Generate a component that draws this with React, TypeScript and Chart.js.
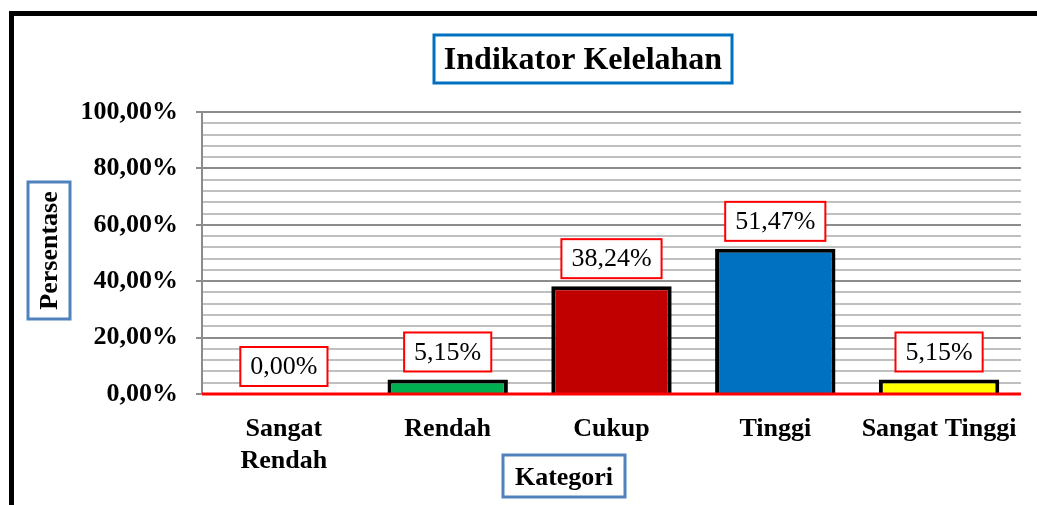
import React, { useEffect, useRef } from "react";
import { Chart, registerables } from "chart.js";

Chart.register(...registerables);

const categories: (string | string[])[] = [["Sangat", "Rendah"], "Rendah", "Cukup", "Tinggi", "Sangat Tinggi"];
const values: number[] = [0, 5.15, 38.24, 51.47, 5.15];
const barColors: string[] = ["#7f7f7f", "#00B050", "#C00000", "#0070C0", "#FFFF00"];
const yMin = 0;
const yMax = 100;
const yStep = 4;
const yMajorStep = 20;
const chartTitle = "Indikator Kelelahan";
const yTitle = "Persentase";
const xTitle = "Kategori";

const SERIF = "'Liberation Serif', 'Times New Roman', serif";
const fmt = (v: number) => v.toFixed(2).replace(".", ",") + "%";

const decorPlugin = {
  id: "decor",
  beforeDraw(chart: any) {
    const ctx = chart.ctx;
    ctx.save();
    ctx.fillStyle = "#ffffff";
    ctx.fillRect(0, 0, chart.width, chart.height);
    // frame
    ctx.fillStyle = "#000000";
    ctx.fillRect(9, 11, chart.width - 9, 5);
    ctx.fillRect(9, 11, 5, chart.height - 11);
    ctx.restore();
  },
  afterDatasetsDraw(chart: any) {
    const ctx = chart.ctx;
    const area = chart.chartArea;
    ctx.save();
    // red baseline
    const y0 = chart.scales.y.getPixelForValue(0);
    ctx.strokeStyle = "#FF0000";
    ctx.lineWidth = 3;
    ctx.beginPath();
    ctx.moveTo(area.left, y0);
    ctx.lineTo(area.right, y0);
    ctx.stroke();

    // data labels
    const meta = chart.getDatasetMeta(0);
    ctx.font = `26px ${SERIF}`;
    ctx.textAlign = "center";
    ctx.textBaseline = "middle";
    meta.data.forEach((el: any, i: number) => {
      const txt = fmt(values[i]);
      const w = ctx.measureText(txt).width + 20;
      const h = 39;
      const bottom = el.y - 8;
      const cx = el.x;
      ctx.fillStyle = "#ffffff";
      ctx.fillRect(cx - w / 2, bottom - h, w, h);
      ctx.strokeStyle = "#FF0000";
      ctx.lineWidth = 2;
      ctx.strokeRect(cx - w / 2, bottom - h, w, h);
      ctx.fillStyle = "#000000";
      ctx.fillText(txt, cx, bottom - h / 2 + 1);
    });

    // titles in boxes
    const box = (x: number, y: number, w: number, h: number, color: string) => {
      ctx.fillStyle = "#ffffff";
      ctx.fillRect(x, y, w, h);
      ctx.strokeStyle = color;
      ctx.lineWidth = 3;
      ctx.strokeRect(x, y, w, h);
    };
    box(434, 35, 298, 48, "#0070C0");
    ctx.fillStyle = "#000000";
    ctx.font = `bold 32px ${SERIF}`;
    ctx.fillText(chartTitle, 583, 61);

    box(503, 455, 122, 42, "#4F81BD");
    ctx.fillStyle = "#000000";
    ctx.font = `bold 26px ${SERIF}`;
    ctx.fillText(xTitle, 564, 478);

    box(28, 182, 42, 137, "#4F81BD");
    ctx.save();
    ctx.translate(50, 250.5);
    ctx.rotate(-Math.PI / 2);
    ctx.fillStyle = "#000000";
    ctx.font = `bold 26px ${SERIF}`;
    ctx.fillText(yTitle, 0, 0);
    ctx.restore();

    ctx.restore();
  },
};

export default function App() {
  const ref = useRef<HTMLCanvasElement | null>(null);
  useEffect(() => {
    if (!ref.current) return;
    const chart = new Chart(ref.current, {
      type: "bar",
      data: {
        labels: categories,
        datasets: [
          {
            data: values,
            backgroundColor: barColors,
            borderColor: "#000000",
            borderWidth: 4,
            categoryPercentage: 1,
            barPercentage: 0.735,
          },
        ],
      },
      options: {
        responsive: false,
        animation: false,
        layout: { padding: { top: 112, right: 15, left: 0, bottom: 0 } },
        plugins: {
          legend: { display: false },
          tooltip: { enabled: false },
        },
        scales: {
          x: {
            grid: { display: false, drawTicks: false },
            border: { display: false },
            ticks: {
              color: "#000000",
              padding: 19,
              maxRotation: 0,
              autoSkip: false,
              font: { family: SERIF, size: 26, weight: "bold", lineHeight: 1.23 },
            },
            afterFit: (scale: any) => {
              scale.height = 111;
            },
          },
          y: {
            min: yMin,
            max: yMax,
            grid: {
              color: (c: any) => (c.tick && c.tick.value % yMajorStep === 0 ? "#8c8c8c" : "#c0c0c0"),
              tickColor: (c: any) => (c.tick && c.tick.value % yMajorStep === 0 ? "#8c8c8c" : "rgba(0,0,0,0)"),
              lineWidth: 2,
              tickLength: 6,
            },
            border: { color: "#8c8c8c", width: 2 },
            ticks: {
              stepSize: yStep,
              autoSkip: false,
              color: "#000000",
              padding: 18,
              font: { family: SERIF, size: 26, weight: "bold" },
              callback: (v: any) => (Number(v) % yMajorStep === 0 ? fmt(Number(v)) : ""),
            },
            afterFit: (scale: any) => {
              scale.width = 202;
            },
          },
        },
      },
      plugins: [decorPlugin],
    } as any);
    return () => chart.destroy();
  }, []);
  return (
    <div style={{ position: "absolute", left: 0, top: 0, width: 1037, height: 505 }}>
      <canvas ref={ref} width={1037} height={505} style={{ display: "block" }} />
    </div>
  );
}
